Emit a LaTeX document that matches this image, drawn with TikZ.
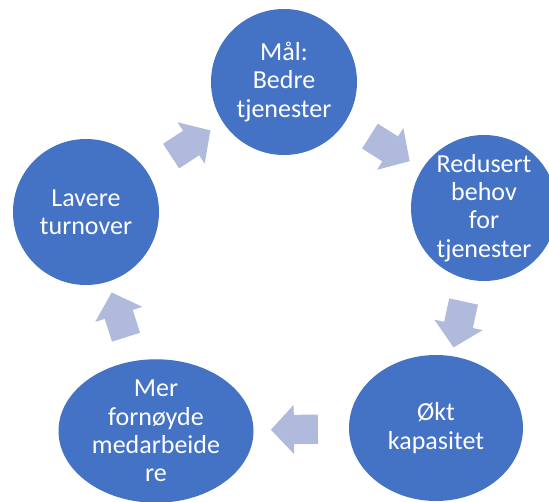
\documentclass[tikz,border=0pt]{standalone}
\usepackage{fontspec}
\setmainfont{Carlito}
\usepackage{xcolor}
\usetikzlibrary{shapes.geometric,shapes.arrows}
\definecolor{ringblue}{HTML}{4472C4}
\definecolor{arrowblue}{HTML}{AFBADD}

\begin{document}
\begin{tikzpicture}[x=1pt, y=-1pt,
  ci/.style={circle, fill=ringblue, minimum size=146pt, inner sep=0pt, align=center, text=white, font=\fontsize{26}{28.2}\selectfont},
  el/.style={ci, ellipse},
  blk/.style={single arrow, fill=arrowblue, minimum height=47pt, minimum width=49pt, single arrow head extend=10pt, single arrow tip angle=94, inner xsep=0pt, inner ysep=14.5pt, sloped, allow upside down}]
\useasboundingbox (0,0) rectangle (549,502);
\clip (0,0) rectangle (549,502);
\node[ci] (maal)  at (284,82)  {Mål:\\Bedre\\tjenester};
\node[ci] (redus) at (484,208) {Redusert\\behov\\for\\tjenester};
\node[el, minimum width=174pt, minimum height=146pt] (okt) at (436,428) {Økt\\kapasitet};
\node[el, minimum width=195pt, minimum height=136pt] (mer) at (156,431) {Mer\\fornøyde\\medarbeide\\re};
\node[ci] (lav)   at (86,212)  {Lavere\\turnover};
\path (maal)  -- node[blk] {} (redus);
\path (redus) -- node[blk] {} (okt);
\path (okt)   -- node[blk] {} (mer);
\path (mer)   -- node[blk] {} (lav);
\path (lav)   -- node[blk] {} (maal);
\end{tikzpicture}
\end{document}
